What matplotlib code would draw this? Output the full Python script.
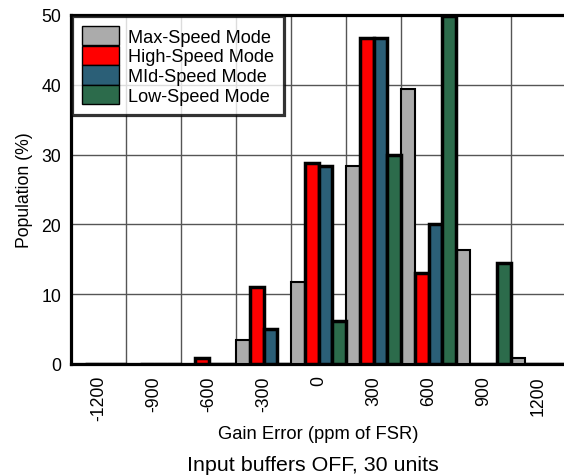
import matplotlib
matplotlib.use("Agg")
import matplotlib.pyplot as plt
import numpy as np

plt.rcParams['font.family'] = ['Liberation Sans', 'DejaVu Sans']

categories = ["-1200", "-900", "-600", "-300", "0", "300", "600", "900", "1200"]
series_names = ["Max-Speed Mode", "High-Speed Mode", "MId-Speed Mode", "Low-Speed Mode"]
max_speed = [0, 0, 0, 3.5, 11.8, 28.4, 39.4, 16.3, 0.8]
high_speed = [0, 0, 0.9, 11.1, 28.8, 46.7, 13.0, 0, 0]
mid_speed = [0, 0, 0, 5.0, 28.4, 46.7, 20.1, 0, 0]
low_speed = [0, 0, 0, 0, 6.1, 30.0, 49.8, 14.5, 0]
series = [max_speed, high_speed, mid_speed, low_speed]
colors = ["#ABABAB", "#FF0000", "#2B5F77", "#2C6B4B"]
edge_widths = [1.5, 2.5, 2.5, 2.5]

fig = plt.figure(figsize=(5.64, 4.77), dpi=100)
ax = fig.add_axes([71/564, (477-365)/477, 495/564, 349/477])

x = np.arange(len(categories))
w = 0.25
offsets = [-1.5*w, -0.5*w, 0.5*w, 1.5*w]
for vals, name, c, off, lw in zip(series, series_names, colors, offsets, edge_widths):
    ax.bar(x + off, vals, width=w, color=c, edgecolor='black', linewidth=lw,
           label=name, zorder=3)

ax.set_xlim(-0.5, len(categories) - 0.5)
ax.set_ylim(0, 50)
ax.set_xticks(x)
ax.set_xticklabels(categories, rotation=90, fontsize=12.7)
ax.set_xticks(np.arange(0.5, len(categories) - 0.5, 1), minor=True)
ax.set_yticks(np.arange(0, 51, 10))
ax.tick_params(axis='y', labelsize=12.7, length=0, pad=7)
ax.tick_params(axis='x', which='major', length=0, pad=8)
ax.tick_params(axis='x', which='minor', length=0)
ax.grid(axis='y', which='major', color='#555555', linewidth=1, zorder=0)
ax.grid(axis='x', which='minor', color='#555555', linewidth=1, zorder=0)
ax.set_axisbelow(True)
for s in ax.spines.values():
    s.set_linewidth(2.3)
    s.set_color('black')

ax.set_ylabel("Population (%)", fontsize=12.7, labelpad=6)
ax.set_xlabel("Gain Error (ppm of FSR)", fontsize=13.2, labelpad=3)

leg = ax.legend(loc='upper left', fontsize=13.1, frameon=True, fancybox=False,
                handlelength=2.05, handleheight=1.25, labelspacing=0.0,
                handletextpad=0.5, borderpad=0.55, borderaxespad=0.05)
leg.get_frame().set_edgecolor('black')
leg.get_frame().set_linewidth(2.3)
for h in leg.legend_handles:
    h.set_linewidth(1)

fig.text(313/564, 1 - 466/477, "Input buffers OFF, 30 units", fontsize=15.4,
         ha='center', va='center')

fig.savefig("out.png", dpi=100)
